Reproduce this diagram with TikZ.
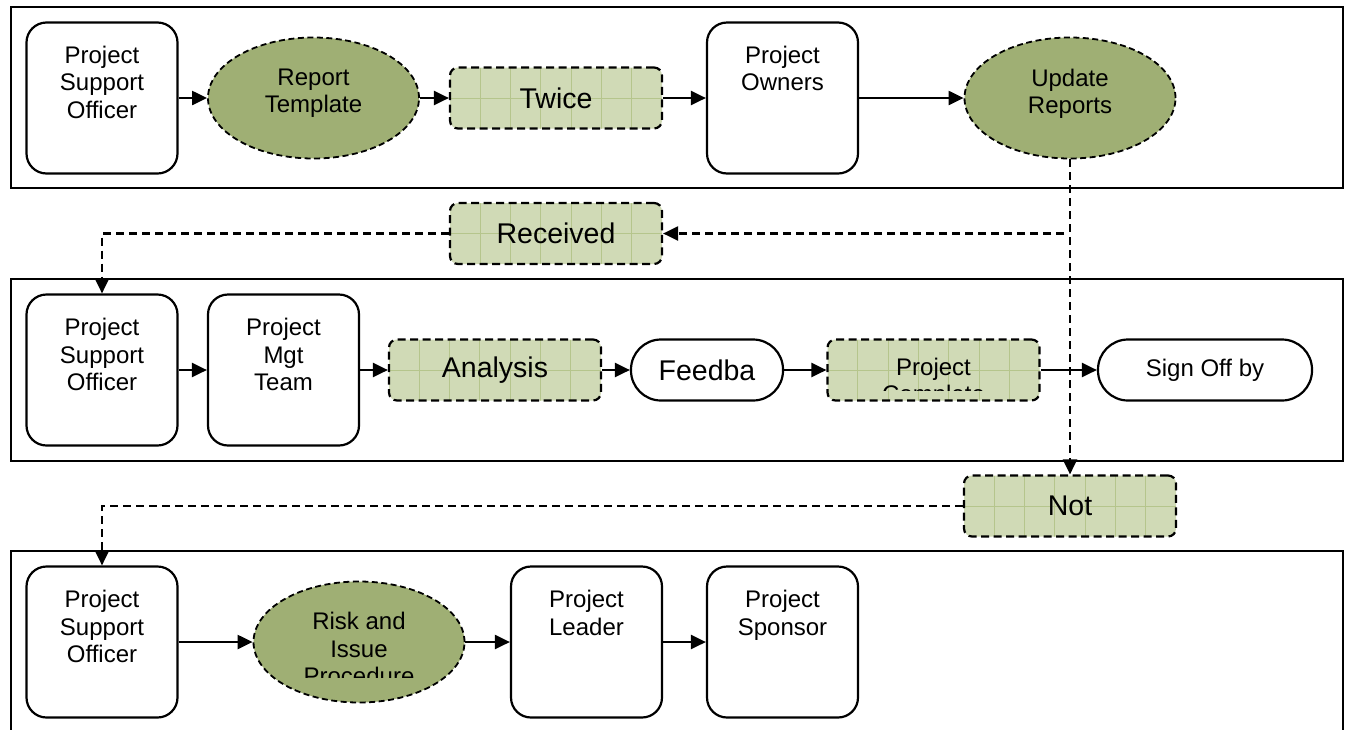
\documentclass[tikz,border=0pt]{standalone}
\usepackage{fontspec}
\setmainfont{Liberation Sans}
\usetikzlibrary{arrows.meta,shapes.geometric}
\definecolor{ellfill}{RGB}{159,175,116}
\definecolor{gfill}{RGB}{208,218,182}
\definecolor{ggrid}{RGB}{181,197,140}
\begin{document}
\begin{tikzpicture}[x=1pt,y=-1pt,
  lane/.style={draw=black, line width=2.8pt},
  proc/.style={draw, line width=2.2pt, rounded corners=20pt, minimum width=151pt, minimum height=151pt, inner sep=0pt},
  lbl/.style={font=\fontsize{24}{27.5}\selectfont, align=center, inner sep=0pt, anchor=north},
  big/.style={font=\fontsize{28.5}{32}\selectfont},
  mid/.style={font=\fontsize{24}{27.5}\selectfont},
  ell/.style={ellipse, draw, dash pattern=on 6pt off 3.5pt, line width=1.8pt, fill=ellfill, minimum width=211pt, minimum height=121pt, inner sep=0pt},
  gbox/.style={draw, dash pattern=on 8pt off 4.5pt, line width=2.2pt, rounded corners=8pt, fill=gfill,
    minimum width=212pt, minimum height=61pt, inner sep=0pt, big,
    path picture={
      \foreach \i in {1,...,6}{
        \draw[ggrid, solid, line width=0.9pt] ([xshift={\i*30.3pt}]path picture bounding box.north west) -- ([xshift={\i*30.3pt}]path picture bounding box.south west);
      }
      \draw[ggrid, solid, line width=0.9pt] (path picture bounding box.west) -- (path picture bounding box.east);
    }},
  pill/.style={draw, line width=2.2pt, rounded corners=30pt, minimum height=61pt, inner sep=0pt},
  arr/.style={line width=2.2pt, -{Triangle[length=15pt,width=14pt]}},
  darr/.style={arr, dash pattern=on 8pt off 5pt},
]
\useasboundingbox (0,0) rectangle (1348,729);

% lanes
\draw[lane] (11,7) rectangle (1343,188);
\draw[lane] (11,279) rectangle (1343,461);
\draw[lane] (11,731) -- (11,551) -- (1343,551) -- (1343,731);

% top lane
\node[proc] (pso1) at (102,98) {};
\node[lbl] (pso1t) at ([yshift=-24.5pt]pso1.north) {Project\\Support\\Officer};
\node[ell] (rt) at (313.5,98) {};
\node[lbl] (rtt) at ([yshift=-32pt]rt.north) {Report\\Template};
\node[gbox] (twice) at (556,98) {Twice};
\node[proc] (own) at (782.5,98) {};
\node[lbl] (ownt) at ([yshift=-24.5pt]own.north) {Project\\Owners};
\node[ell] (upd) at (1070,98) {};
\node[lbl] (updt) at ([yshift=-32pt]upd.north) {Update\\Reports};

% between lanes
\node[gbox] (rec) at (556,233.5) {Received};
\node[gbox] (nt) at (1070,506) {Not};

% middle lane
\node[proc] (pso2) at (102,370) {};
\node[lbl] (pso2t) at ([yshift=-24.5pt]pso2.north) {Project\\Support\\Officer};
\node[proc] (mgt) at (283.5,370) {};
\node[lbl] (mgtt) at ([yshift=-24.5pt]mgt.north) {Project\\Mgt\\Team};
\node[gbox] (ana) at (495,370) {Analysis};
\node[pill, big, minimum width=152pt] (fb) at (707,370) {Feedba};
\node[gbox] (pc) at (933.5,370) {};
\begin{scope}
  \clip ([xshift=-106pt]pc.north) rectangle ([xshift=106pt,yshift=-20pt]pc.center);
  \node[lbl] (pct) at ([yshift=-19pt]pc.north) {Project\\Complete};
\end{scope}
\node[pill, mid, minimum width=214pt] (so) at (1205,370) {Sign Off by};

% bottom lane
\node[proc] (pso3) at (102,642) {};
\node[lbl] (pso3t) at ([yshift=-24.5pt]pso3.north) {Project\\Support\\Officer};
\node[ell] (risk) at (359,642) {};
\begin{scope}
  \clip ([xshift=-106pt]risk.north) rectangle ([xshift=106pt,yshift=-35pt]risk.center);
  \node[lbl] (riskt) at ([yshift=-31.5pt]risk.north) {Risk and\\Issue\\Procedure};
\end{scope}
\node[proc] (lead) at (586.5,642) {};
\node[lbl] (leadt) at ([yshift=-24.5pt]lead.north) {Project\\Leader};
\node[proc] (spon) at (782.5,642) {};
\node[lbl] (spont) at ([yshift=-24.5pt]spon.north) {Project\\Sponsor};

% connectors
\draw[arr] (pso1) -- (rt);
\draw[arr] (rt) -- (twice);
\draw[arr] (twice) -- (own);
\draw[arr] (own) -- (upd);

\draw[darr] (upd.south) -- (nt.north);
\coordinate (br) at (1064,233.5);
\draw[darr] (br) -- (rec.east);
\draw[darr] (rec.west) -| (pso2.north);
\draw[darr] (nt.west) -| (pso3.north);

\draw[arr] (pso2) -- (mgt);
\draw[arr] (mgt) -- (ana);
\draw[arr] (ana) -- (fb);
\draw[arr] (fb) -- (pc);
\draw[arr] (pc) -- (so);

\draw[arr] (pso3) -- (risk);
\draw[arr] (risk) -- (lead);
\draw[arr] (lead) -- (spon);
\end{tikzpicture}
\end{document}
